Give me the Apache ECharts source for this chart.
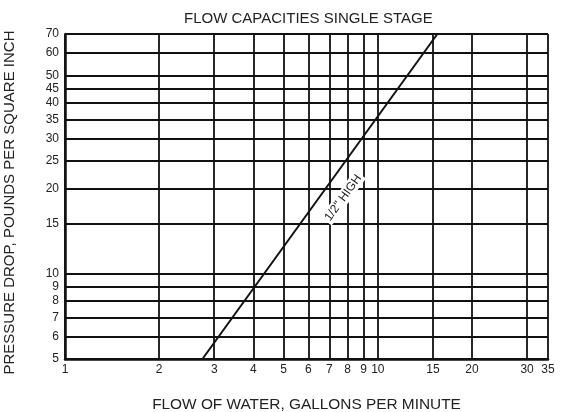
<!DOCTYPE html>
<html><head><meta charset="utf-8">
<script src="https://cdn.jsdelivr.net/npm/echarts@6/dist/echarts.min.js"></script>
<style>html,body{margin:0;padding:0;background:#fff}#c{width:561px;height:412px}</style>
</head><body><div id="c"></div>
<script>
const chartTitle = 'FLOW CAPACITIES SINGLE STAGE';
const xName = 'FLOW OF WATER, GALLONS PER MINUTE';
const yName = 'PRESSURE DROP, POUNDS PER SQUARE INCH';
const xTicks = [1, 2, 3, 4, 5, 6, 7, 8, 9, 10, 15, 20, 30, 35];
const yTicks = [5, 6, 7, 8, 9, 10, 15, 20, 25, 30, 35, 40, 45, 50, 60, 70];
const flowGpm = [2.75, 15.5];
const pressurePsi = [5, 70];
const curveLabel = '1/2" HIGH';
const curveLabelAt = [7.75, 18.5];

const FONT = 'Liberation Sans, Arial, Helvetica, sans-serif';
const TXT = '#222';
const chart = echarts.init(document.getElementById('c'), null, {renderer: 'canvas'});
chart.setOption({
  animation: false,
  backgroundColor: '#fff',
  title: {
    text: chartTitle, left: 179, top: 6,
    textStyle: {fontSize: 15, fontWeight: 'normal', color: TXT, fontFamily: FONT}
  },
  grid: {left: 65, right: 13, top: 34, bottom: 53, containLabel: false, outerBoundsMode: 'none'},
  xAxis: {
    type: 'log', logBase: 10, min: 1, max: 35,
    name: xName, nameLocation: 'middle', nameGap: 38,
    nameTextStyle: {fontSize: 15.4, color: TXT, fontFamily: FONT},
    axisLine: {show: true, lineStyle: {color: '#111', width: 2.5}},
    axisTick: {show: false, customValues: xTicks},
    axisLabel: {customValues: xTicks, color: TXT, fontSize: 12, margin: 5, fontFamily: FONT},
    splitLine: {show: true, lineStyle: {color: '#111', width: 1.8}},
    minorTick: {show: false}, minorSplitLine: {show: false}
  },
  yAxis: {
    type: 'log', logBase: 10, min: 5, max: 70,
    name: yName, nameLocation: 'middle', nameGap: 48,
    nameTextStyle: {fontSize: 15, color: TXT, fontFamily: FONT, padding: [0, 12, 0, 0]},
    axisLine: {show: true, lineStyle: {color: '#111', width: 2.5}},
    axisTick: {show: false, customValues: yTicks},
    axisLabel: {customValues: yTicks, color: TXT, fontSize: 12, margin: 6, fontFamily: FONT},
    splitLine: {show: true, lineStyle: {color: '#111', width: 1.8}},
    minorTick: {show: false}, minorSplitLine: {show: false}
  },
  series: [{
    type: 'line',
    data: flowGpm.map((x, i) => [x, pressurePsi[i]]),
    symbol: 'none',
    lineStyle: {color: '#111', width: 2},
    z: 5,
    markPoint: {
      symbol: 'rect', symbolSize: 0,
      data: [{coord: curveLabelAt}],
      label: {
        show: true, position: 'inside', formatter: curveLabel, rotate: 54,
        fontSize: 12, color: TXT, fontFamily: FONT,
        backgroundColor: '#fff', padding: [1, 2]
      }
    }
  }]
});
</script></body></html>
